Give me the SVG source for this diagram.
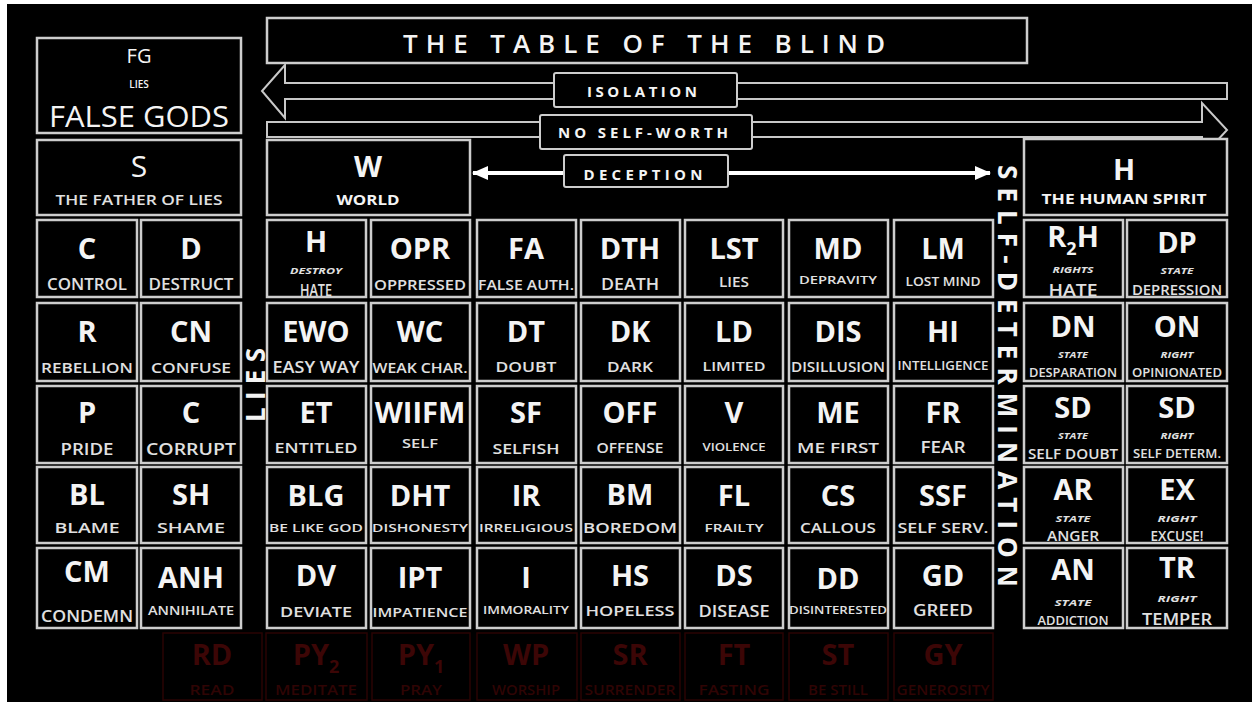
<svg xmlns="http://www.w3.org/2000/svg" width="1252" height="702" viewBox="0 0 1252 702">
<defs>
<style>
text{font-family:"Open Sans","Liberation Sans",sans-serif;fill:#f4f4f4;text-anchor:middle}
.box{fill:#000;stroke:#cdcdcd;stroke-width:2.5}
.m{font-size:29px;font-weight:700}
.s{font-weight:600;fill:#e0e0e0}
.i{font-size:9px;font-style:italic;font-weight:700;fill:#e0e0e0}
.rbox{fill:none;stroke:#2a0303;stroke-width:1.5}
.rm{font-size:29px;font-weight:700;fill:#3c0606}
.rs{font-size:14px;font-weight:600;fill:#2f0404}
.lbl{fill:#000;stroke:#cdcdcd;stroke-width:2}
.lt{font-size:15px;font-weight:700}
.arw{fill:none;stroke:#c8c8c8;stroke-width:2}
.vt{font-size:26px;font-weight:700}
</style>
<marker id="ah" markerUnits="userSpaceOnUse" markerWidth="16" markerHeight="14" refX="15" refY="7" orient="auto-start-reverse"><path d="M0,0 L16,7 L0,14 Z" fill="#ffffff"/></marker>
</defs>
<rect x="0" y="0" width="1252" height="702" fill="#ffffff"/>
<rect x="7" y="4" width="1245" height="698" fill="#000000"/>

<g id="title"><rect class="box" x="267" y="18" width="760" height="45" stroke-width="2"/><text x="644" y="53" font-size="26" font-weight="600" textLength="482" lengthAdjust="spacing">THE TABLE OF THE BLIND</text></g>

<g id="connectors">
<path class="arw" d="M1227,83 L285,83 L285,65 L262,91 L285,118 L285,99 L1227,99 Z"/>
<path class="arw" d="M267,122 L1202,122 L1202,103 L1227,130 L1202,157 L1202,137 L267,137 Z"/>
<line x1="473" y1="173" x2="990" y2="173" stroke="#ffffff" stroke-width="4" marker-start="url(#ah)" marker-end="url(#ah)"/>
<rect class="lbl" x="554" y="73" width="183" height="34" rx="2"/><text class="lt" x="642" y="97" textLength="110" lengthAdjust="spacing">ISOLATION</text>
<rect class="lbl" x="540" y="115" width="212" height="34" rx="2"/><text class="lt" x="643" y="138" textLength="170" lengthAdjust="spacing">NO SELF-WORTH</text>
<rect class="lbl" x="564" y="155" width="164" height="32" rx="2"/><text class="lt" x="643" y="180" textLength="119" lengthAdjust="spacing">DECEPTION</text>
</g>

<g id="n-false-gods"><rect class="box" x="37" y="38" width="204" height="95"/><text x="139" y="63" font-size="20">FG</text><text x="139" y="88" font-size="10" font-weight="600">LIES</text><text x="139" y="127" font-size="30" textLength="180" lengthAdjust="spacingAndGlyphs">FALSE GODS</text></g>
<g id="n-father-of-lies"><rect class="box" x="37" y="140" width="204" height="75"/><text x="139" y="177" font-size="30">S</text><text class="s" x="139" y="205" font-size="14" textLength="167" lengthAdjust="spacingAndGlyphs">THE FATHER OF LIES</text></g>
<g id="n-world"><rect class="box" x="267" y="140" width="203" height="75"/><text class="m" x="368" y="177" font-size="28">W</text><text x="368" y="205" font-size="14" font-weight="700" textLength="63" lengthAdjust="spacingAndGlyphs">WORLD</text></g>
<g id="n-human-spirit"><rect class="box" x="1024" y="139" width="203" height="76"/><text class="m" x="1124" y="180" font-size="28">H</text><text x="1124" y="204" font-size="14" font-weight="700" textLength="165" lengthAdjust="spacingAndGlyphs">THE HUMAN SPIRIT</text></g>

<g id="v-lies"><text class="vt" transform="translate(265,385) rotate(-90)" textLength="74" lengthAdjust="spacing">LIES</text></g>
<g id="v-self-determination"><text class="vt" transform="translate(998,376) rotate(90)" textLength="422" lengthAdjust="spacing">SELF-DETERMINATION</text></g>

<!-- Row 1 -->
<g id="n-control"><rect class="box" x="37" y="220" width="100" height="77"/><text class="m" x="87" y="259">C</text><text class="s" x="87" y="290" font-size="16" textLength="80" lengthAdjust="spacingAndGlyphs">CONTROL</text></g>
<g id="n-destruct"><rect class="box" x="141" y="220" width="100" height="77"/><text class="m" x="191" y="259">D</text><text class="s" x="191" y="290" font-size="16" textLength="85" lengthAdjust="spacingAndGlyphs">DESTRUCT</text></g>
<g id="n-hate"><rect class="box" x="267" y="220" width="99" height="77"/><text class="m" x="316" y="252">H</text><text class="i" x="316" y="274" textLength="52" lengthAdjust="spacingAndGlyphs">DESTROY</text><text class="s" x="316" y="296" font-size="16" textLength="32" lengthAdjust="spacingAndGlyphs">HATE</text></g>
<g id="n-oppressed"><rect class="box" x="371" y="220" width="99" height="77"/><text class="m" x="420" y="259">OPR</text><text class="s" x="420" y="290" font-size="14" textLength="92" lengthAdjust="spacingAndGlyphs">OPPRESSED</text></g>
<g id="n-false-auth"><rect class="box" x="477" y="220" width="99" height="77"/><text class="m" x="526" y="259">FA</text><text class="s" x="526" y="290" font-size="15" textLength="96" lengthAdjust="spacingAndGlyphs">FALSE AUTH.</text></g>
<g id="n-death"><rect class="box" x="581" y="220" width="99" height="77"/><text class="m" x="630" y="259">DTH</text><text class="s" x="630" y="290" font-size="16" textLength="58" lengthAdjust="spacingAndGlyphs">DEATH</text></g>
<g id="n-lies"><rect class="box" x="685" y="220" width="98" height="77"/><text class="m" x="734" y="259">LST</text><text class="s" x="734" y="287" font-size="14" textLength="30" lengthAdjust="spacingAndGlyphs">LIES</text></g>
<g id="n-depravity"><rect class="box" x="789" y="220" width="99" height="77"/><text class="m" x="838" y="259">MD</text><text class="s" x="838" y="284" font-size="11" textLength="78" lengthAdjust="spacingAndGlyphs">DEPRAVITY</text></g>
<g id="n-lost-mind"><rect class="box" x="894" y="220" width="99" height="77"/><text class="m" x="943" y="259">LM</text><text class="s" x="943" y="286" font-size="12" textLength="75" lengthAdjust="spacingAndGlyphs">LOST MIND</text></g>
<g id="n-rights-hate"><rect class="box" x="1024" y="220" width="99" height="77"/><text class="m" x="1073" y="247">R<tspan font-size="18" dy="8">2</tspan><tspan dy="-8">H</tspan></text><text class="i" x="1073" y="273" textLength="41" lengthAdjust="spacingAndGlyphs">RIGHTS</text><text class="s" x="1073" y="296" font-size="16" textLength="49" lengthAdjust="spacingAndGlyphs">HATE</text></g>
<g id="n-depression"><rect class="box" x="1127" y="220" width="100" height="77"/><text class="m" x="1177" y="253">DP</text><text class="i" x="1177" y="274" textLength="33" lengthAdjust="spacingAndGlyphs">STATE</text><text class="s" x="1177" y="295" font-size="15" textLength="90" lengthAdjust="spacingAndGlyphs">DEPRESSION</text></g>

<!-- Row 2 -->
<g id="n-rebellion"><rect class="box" x="37" y="303" width="100" height="78"/><text class="m" x="87" y="342">R</text><text class="s" x="87" y="373" font-size="15" textLength="92" lengthAdjust="spacingAndGlyphs">REBELLION</text></g>
<g id="n-confuse"><rect class="box" x="141" y="303" width="100" height="78"/><text class="m" x="191" y="342">CN</text><text class="s" x="191" y="373" font-size="15" textLength="80" lengthAdjust="spacingAndGlyphs">CONFUSE</text></g>
<g id="n-easy-way"><rect class="box" x="267" y="303" width="99" height="78"/><text class="m" x="316" y="342">EWO</text><text class="s" x="316" y="373" font-size="16" textLength="87" lengthAdjust="spacingAndGlyphs">EASY WAY</text></g>
<g id="n-weak-char"><rect class="box" x="371" y="303" width="99" height="78"/><text class="m" x="420" y="342">WC</text><text class="s" x="420" y="373" font-size="14" textLength="95" lengthAdjust="spacingAndGlyphs">WEAK CHAR.</text></g>
<g id="n-doubt"><rect class="box" x="477" y="303" width="99" height="78"/><text class="m" x="526" y="342">DT</text><text class="s" x="526" y="372" font-size="15" textLength="61" lengthAdjust="spacingAndGlyphs">DOUBT</text></g>
<g id="n-dark"><rect class="box" x="581" y="303" width="99" height="78"/><text class="m" x="630" y="342">DK</text><text class="s" x="630" y="372" font-size="15" textLength="46" lengthAdjust="spacingAndGlyphs">DARK</text></g>
<g id="n-limited"><rect class="box" x="685" y="303" width="98" height="78"/><text class="m" x="734" y="342">LD</text><text class="s" x="734" y="371" font-size="13" textLength="63" lengthAdjust="spacingAndGlyphs">LIMITED</text></g>
<g id="n-disillusion"><rect class="box" x="789" y="303" width="99" height="78"/><text class="m" x="838" y="342">DIS</text><text class="s" x="838" y="372" font-size="14" textLength="94" lengthAdjust="spacingAndGlyphs">DISILLUSION</text></g>
<g id="n-intelligence"><rect class="box" x="894" y="303" width="99" height="78"/><text class="m" x="943" y="342">HI</text><text class="s" x="943" y="370" font-size="12" textLength="91" lengthAdjust="spacingAndGlyphs">INTELLIGENCE</text></g>
<g id="n-desparation"><rect class="box" x="1024" y="303" width="99" height="78"/><text class="m" x="1073" y="337">DN</text><text class="i" x="1073" y="358" textLength="30" lengthAdjust="spacingAndGlyphs">STATE</text><text class="s" x="1073" y="377" font-size="13" textLength="88" lengthAdjust="spacingAndGlyphs">DESPARATION</text></g>
<g id="n-opinionated"><rect class="box" x="1127" y="303" width="100" height="78"/><text class="m" x="1177" y="337">ON</text><text class="i" x="1177" y="358" textLength="33" lengthAdjust="spacingAndGlyphs">RIGHT</text><text class="s" x="1177" y="377" font-size="13" textLength="90" lengthAdjust="spacingAndGlyphs">OPINIONATED</text></g>

<!-- Row 3 -->
<g id="n-pride"><rect class="box" x="37" y="386" width="100" height="77"/><text class="m" x="87" y="423">P</text><text class="s" x="87" y="455" font-size="16" textLength="53" lengthAdjust="spacingAndGlyphs">PRIDE</text></g>
<g id="n-corrupt"><rect class="box" x="141" y="386" width="100" height="77"/><text class="m" x="191" y="423">C</text><text class="s" x="191" y="455" font-size="16" textLength="90" lengthAdjust="spacingAndGlyphs">CORRUPT</text></g>
<g id="n-entitled"><rect class="box" x="267" y="386" width="99" height="77"/><text class="m" x="316" y="423">ET</text><text class="s" x="316" y="453" font-size="15" textLength="83" lengthAdjust="spacingAndGlyphs">ENTITLED</text></g>
<g id="n-self"><rect class="box" x="371" y="386" width="99" height="77"/><text class="m" x="420" y="423">WIIFM</text><text class="s" x="420" y="448" font-size="13" textLength="36" lengthAdjust="spacingAndGlyphs">SELF</text></g>
<g id="n-selfish"><rect class="box" x="477" y="386" width="99" height="77"/><text class="m" x="526" y="423">SF</text><text class="s" x="526" y="454" font-size="15" textLength="67" lengthAdjust="spacingAndGlyphs">SELFISH</text></g>
<g id="n-offense"><rect class="box" x="581" y="386" width="99" height="77"/><text class="m" x="630" y="423">OFF</text><text class="s" x="630" y="453" font-size="14" textLength="67" lengthAdjust="spacingAndGlyphs">OFFENSE</text></g>
<g id="n-violence"><rect class="box" x="685" y="386" width="98" height="77"/><text class="m" x="734" y="423">V</text><text class="s" x="734" y="451" font-size="11" textLength="63" lengthAdjust="spacingAndGlyphs">VIOLENCE</text></g>
<g id="n-me-first"><rect class="box" x="789" y="386" width="99" height="77"/><text class="m" x="838" y="423">ME</text><text class="s" x="838" y="453" font-size="15" textLength="82" lengthAdjust="spacingAndGlyphs">ME FIRST</text></g>
<g id="n-fear"><rect class="box" x="894" y="386" width="99" height="77"/><text class="m" x="943" y="423">FR</text><text class="s" x="943" y="453" font-size="16" textLength="45" lengthAdjust="spacingAndGlyphs">FEAR</text></g>
<g id="n-self-doubt"><rect class="box" x="1024" y="386" width="99" height="77"/><text class="m" x="1073" y="418">SD</text><text class="i" x="1073" y="439" textLength="30" lengthAdjust="spacingAndGlyphs">STATE</text><text class="s" x="1073" y="459" font-size="15" textLength="90" lengthAdjust="spacingAndGlyphs">SELF DOUBT</text></g>
<g id="n-self-determ"><rect class="box" x="1127" y="386" width="100" height="77"/><text class="m" x="1177" y="418">SD</text><text class="i" x="1177" y="439" textLength="33" lengthAdjust="spacingAndGlyphs">RIGHT</text><text class="s" x="1177" y="458" font-size="12" textLength="88" lengthAdjust="spacingAndGlyphs">SELF DETERM.</text></g>

<!-- Row 4 -->
<g id="n-blame"><rect class="box" x="37" y="467" width="100" height="76"/><text class="m" x="87" y="505">BL</text><text class="s" x="87" y="533" font-size="14" textLength="65" lengthAdjust="spacingAndGlyphs">BLAME</text></g>
<g id="n-shame"><rect class="box" x="141" y="467" width="100" height="76"/><text class="m" x="191" y="505">SH</text><text class="s" x="191" y="533" font-size="14" textLength="68" lengthAdjust="spacingAndGlyphs">SHAME</text></g>
<g id="n-be-like-god"><rect class="box" x="267" y="467" width="99" height="76"/><text class="m" x="316" y="506">BLG</text><text class="s" x="316" y="532" font-size="11" textLength="94" lengthAdjust="spacingAndGlyphs">BE LIKE GOD</text></g>
<g id="n-dishonesty"><rect class="box" x="371" y="467" width="99" height="76"/><text class="m" x="420" y="506">DHT</text><text class="s" x="420" y="532" font-size="11" textLength="96" lengthAdjust="spacingAndGlyphs">DISHONESTY</text></g>
<g id="n-irreligious"><rect class="box" x="477" y="467" width="99" height="76"/><text class="m" x="526" y="506">IR</text><text class="s" x="526" y="532" font-size="11" textLength="94" lengthAdjust="spacingAndGlyphs">IRRELIGIOUS</text></g>
<g id="n-boredom"><rect class="box" x="581" y="467" width="99" height="76"/><text class="m" x="630" y="505">BM</text><text class="s" x="630" y="533" font-size="14" textLength="94" lengthAdjust="spacingAndGlyphs">BOREDOM</text></g>
<g id="n-frailty"><rect class="box" x="685" y="467" width="98" height="76"/><text class="m" x="734" y="506">FL</text><text class="s" x="734" y="532" font-size="11" textLength="59" lengthAdjust="spacingAndGlyphs">FRAILTY</text></g>
<g id="n-callous"><rect class="box" x="789" y="467" width="99" height="76"/><text class="m" x="838" y="506">CS</text><text class="s" x="838" y="533" font-size="14" textLength="76" lengthAdjust="spacingAndGlyphs">CALLOUS</text></g>
<g id="n-self-serv"><rect class="box" x="894" y="467" width="99" height="76"/><text class="m" x="943" y="506">SSF</text><text class="s" x="943" y="533" font-size="14" textLength="91" lengthAdjust="spacingAndGlyphs">SELF SERV.</text></g>
<g id="n-anger"><rect class="box" x="1024" y="467" width="99" height="76"/><text class="m" x="1073" y="500">AR</text><text class="i" x="1073" y="522" textLength="35" lengthAdjust="spacingAndGlyphs">STATE</text><text class="s" x="1073" y="541" font-size="14" textLength="52" lengthAdjust="spacingAndGlyphs">ANGER</text></g>
<g id="n-excuse"><rect class="box" x="1127" y="467" width="100" height="76"/><text class="m" x="1177" y="500">EX</text><text class="i" x="1177" y="522" textLength="39" lengthAdjust="spacingAndGlyphs">RIGHT</text><text class="s" x="1177" y="541" font-size="14" textLength="53" lengthAdjust="spacingAndGlyphs">EXCUSE!</text></g>

<!-- Row 5 -->
<g id="n-condemn"><rect class="box" x="37" y="548" width="100" height="80"/><text class="m" x="87" y="582">CM</text><text class="s" x="87" y="622" font-size="16" textLength="92" lengthAdjust="spacingAndGlyphs">CONDEMN</text></g>
<g id="n-annihilate"><rect class="box" x="141" y="548" width="100" height="80"/><text class="m" x="191" y="588">ANH</text><text class="s" x="191" y="615" font-size="13" textLength="86" lengthAdjust="spacingAndGlyphs">ANNIHILATE</text></g>
<g id="n-deviate"><rect class="box" x="267" y="548" width="99" height="80"/><text class="m" x="316" y="586">DV</text><text class="s" x="316" y="617" font-size="15" textLength="72" lengthAdjust="spacingAndGlyphs">DEVIATE</text></g>
<g id="n-impatience"><rect class="box" x="371" y="548" width="99" height="80"/><text class="m" x="420" y="588">IPT</text><text class="s" x="420" y="617" font-size="13" textLength="95" lengthAdjust="spacingAndGlyphs">IMPATIENCE</text></g>
<g id="n-immorality"><rect class="box" x="477" y="548" width="99" height="80"/><text class="m" x="526" y="588">I</text><text class="s" x="526" y="614" font-size="11" textLength="86" lengthAdjust="spacingAndGlyphs">IMMORALITY</text></g>
<g id="n-hopeless"><rect class="box" x="581" y="548" width="99" height="80"/><text class="m" x="630" y="586">HS</text><text class="s" x="630" y="616" font-size="15" textLength="89" lengthAdjust="spacingAndGlyphs">HOPELESS</text></g>
<g id="n-disease"><rect class="box" x="685" y="548" width="98" height="80"/><text class="m" x="734" y="586">DS</text><text class="s" x="734" y="617" font-size="16" textLength="71" lengthAdjust="spacingAndGlyphs">DISEASE</text></g>
<g id="n-disinterested"><rect class="box" x="789" y="548" width="99" height="80"/><text class="m" x="838" y="589">DD</text><text class="s" x="838" y="614" font-size="11" textLength="98" lengthAdjust="spacingAndGlyphs">DISINTERESTED</text></g>
<g id="n-greed"><rect class="box" x="894" y="548" width="99" height="80"/><text class="m" x="943" y="586">GD</text><text class="s" x="943" y="616" font-size="16" textLength="60" lengthAdjust="spacingAndGlyphs">GREED</text></g>
<g id="n-addiction"><rect class="box" x="1024" y="548" width="99" height="80"/><text class="m" x="1073" y="580">AN</text><text class="i" x="1073" y="606" textLength="37" lengthAdjust="spacingAndGlyphs">STATE</text><text class="s" x="1073" y="625" font-size="13" textLength="71" lengthAdjust="spacingAndGlyphs">ADDICTION</text></g>
<g id="n-temper"><rect class="box" x="1127" y="548" width="100" height="80"/><text class="m" x="1177" y="578">TR</text><text class="i" x="1177" y="602" textLength="39" lengthAdjust="spacingAndGlyphs">RIGHT</text><text class="s" x="1177" y="625" font-size="16" textLength="70" lengthAdjust="spacingAndGlyphs">TEMPER</text></g>

<!-- Faded red row -->
<g id="n-read"><rect class="rbox" x="163" y="633" width="99" height="67"/><text class="rm" x="212" y="665">RD</text><text class="rs" x="212" y="695" textLength="45" lengthAdjust="spacingAndGlyphs">READ</text></g>
<g id="n-meditate"><rect class="rbox" x="266" y="633" width="101" height="67"/><text class="rm" x="316" y="665">PY<tspan font-size="18" dy="8">2</tspan></text><text class="rs" x="316" y="695" textLength="82" lengthAdjust="spacingAndGlyphs">MEDITATE</text></g>
<g id="n-pray"><rect class="rbox" x="372" y="633" width="98" height="67"/><text class="rm" x="421" y="665">PY<tspan font-size="18" dy="8">1</tspan></text><text class="rs" x="421" y="695" textLength="42" lengthAdjust="spacingAndGlyphs">PRAY</text></g>
<g id="n-worship"><rect class="rbox" x="477" y="633" width="100" height="67"/><text class="rm" x="526" y="665">WP</text><text class="rs" x="526" y="695" textLength="68" lengthAdjust="spacingAndGlyphs">WORSHIP</text></g>
<g id="n-surrender"><rect class="rbox" x="581" y="633" width="99" height="67"/><text class="rm" x="630" y="665">SR</text><text class="rs" x="630" y="695" textLength="91" lengthAdjust="spacingAndGlyphs">SURRENDER</text></g>
<g id="n-fasting"><rect class="rbox" x="685" y="633" width="98" height="67"/><text class="rm" x="734" y="665">FT</text><text class="rs" x="734" y="695" textLength="71" lengthAdjust="spacingAndGlyphs">FASTING</text></g>
<g id="n-be-still"><rect class="rbox" x="789" y="633" width="99" height="67"/><text class="rm" x="838" y="665">ST</text><text class="rs" x="838" y="695" textLength="60" lengthAdjust="spacingAndGlyphs">BE STILL</text></g>
<g id="n-generosity"><rect class="rbox" x="894" y="633" width="99" height="67"/><text class="rm" x="943" y="665">GY</text><text class="rs" x="943" y="695" textLength="93" lengthAdjust="spacingAndGlyphs">GENEROSITY</text></g>
</svg>
